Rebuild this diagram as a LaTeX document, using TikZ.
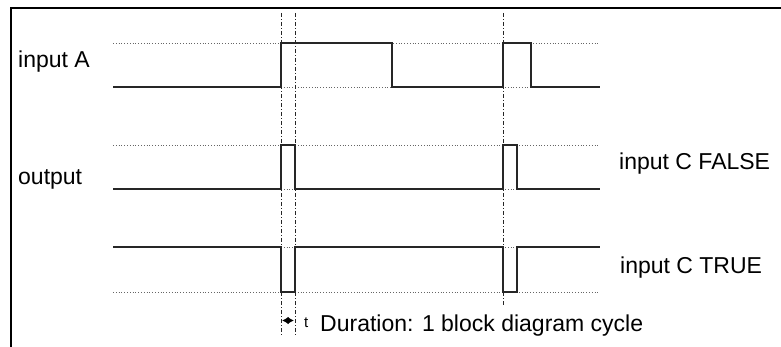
\documentclass[tikz,border=0pt]{standalone}
\usepackage{fontspec}
\setmainfont{Liberation Sans}
\usetikzlibrary{arrows.meta}
\begin{document}
\begin{tikzpicture}[x=1pt,y=-1pt,
  frame/.style={line width=2pt,black},
  sig/.style={line width=1.1pt,black!85,line join=miter},
  ref/.style={line width=0.8pt,black!60,dotted},
  marker/.style={line width=1pt,black!85,dash pattern=on 4pt off 2pt on 1pt off 2pt},
  lbl/.style={font=\fontsize{23}{27}\selectfont,inner sep=0pt,anchor=base west},
  small/.style={font=\fontsize{15}{17}\selectfont,inner sep=0pt,anchor=base west}]
\useasboundingbox (0,0) rectangle (781,347);
% frame
\draw[frame] (10,8.5) -- (781,8.5);
\draw[frame] (11,7.5) -- (11,347);
% time marker coordinates
\coordinate (m1t) at (281,13); \coordinate (m1b) at (281,335);
\coordinate (m2t) at (295,13); \coordinate (m2b) at (295,335);
\coordinate (m3t) at (503,13); \coordinate (m3b) at (503,306);
% reference (dotted) levels
\coordinate (aH0) at (113,43); \coordinate (aH1) at (600,43);
\coordinate (aL0) at (113,87); \coordinate (aL1) at (600,87);
\coordinate (oH0) at (113,145); \coordinate (oH1) at (600,145);
\coordinate (oL0) at (113,189); \coordinate (oL1) at (600,189);
\coordinate (cH0) at (113,247); \coordinate (cH1) at (600,247);
\coordinate (cL0) at (113,292); \coordinate (cL1) at (600,292);
\draw[ref] (aH0) -- (aH1);
\draw[ref] (aL0) -- (aL1);
\draw[ref] (oH0) -- (oH1);
\draw[ref] (oL0) -- (oL1);
\draw[ref] (cH0) -- (cH1);
\draw[ref] (cL0) -- (cL1);
% vertical markers
\draw[marker] (m1t) -- (m1b);
\draw[marker] (m2t) -- (m2b);
\draw[marker] (m3t) -- (m3b);
% input A
\draw[sig] (aL0) -- (281,87) -- (281,43) -- (392,43) -- (392,87) -- (503,87)
  -- (503,43) -- (531,43) -- (531,87) -- (aL1);
% output, input C FALSE
\draw[sig] (oL0) -- (281,189) -- (281,145) -- (295,145) -- (295,189) -- (503,189)
  -- (503,145) -- (517,145) -- (517,189) -- (oL1);
% output, input C TRUE
\draw[sig] (cH0) -- (281,247) -- (281,292) -- (295,292) -- (295,247) -- (503,247)
  -- (503,292) -- (517,292) -- (517,247) -- (cH1);
% cycle arrow
\coordinate (ta) at (282,320.5); \coordinate (tb) at (294,320.5);
\draw[line width=1.2pt,{Latex[length=6.5pt,width=7.5pt]}-{Latex[length=6.5pt,width=7.5pt]}] (ta) -- (tb);
% labels
\node[lbl] (la) at (18,68) {input A};
\node[lbl] (lo) at (18,185) {output};
\node[lbl] (lf) at (619,170) {input C FALSE};
\node[lbl] (lt) at (620,273) {input C TRUE};
\node[small] (lti) at (304,327) {t};
\node[lbl] (ld) at (320,331) {Duration: 1 block diagram cycle};
\end{tikzpicture}
\end{document}
